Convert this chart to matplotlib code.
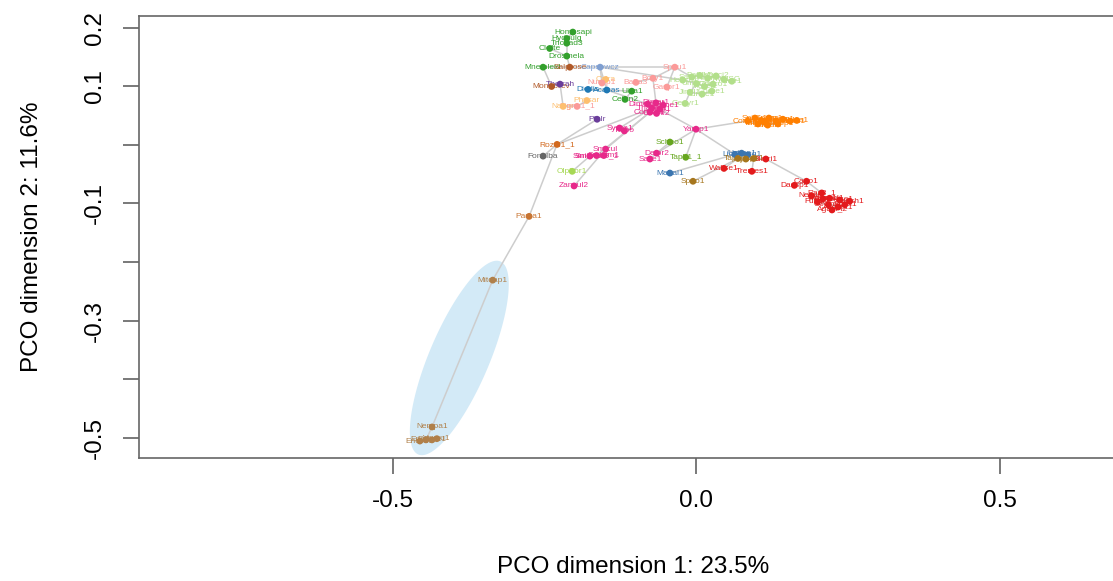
import numpy as np
import matplotlib
matplotlib.use('Agg')
import matplotlib.pyplot as plt
from matplotlib.patches import Polygon

plt.rcParams['font.family'] = ['Liberation Sans', 'DejaVu Sans']

# ---------------- data ----------------
names = [
    'Homosapi', 'Hydvulg', 'Trichad3', 'Clofte', 'Drosmela', 'Mnemleid',
    'Ulva1', 'Cetan2', 'Salprose', 'Monobrev', 'Thetrah', 'Pfalr', 'Capsowcz',
    'Dicdis', 'Acacas', 'Naegr', 'Physar', 'Calra',
    'Nucsp1', 'Bigna1_1', 'Spou1', 'Baba3', 'Bory1', 'Gaspr1',
    'Helsp1', 'Satsp1', 'Batde5', 'Rhiir1', 'Mucci2', 'PhyblSC', 'Lictr1',
    'Umbra1', 'Morel1', 'Conco1', 'Jimfl1', 'Linpe1', 'Coere1', 'Genyr1',
    'DimcrSC1', 'Dimar1', 'Basme1', 'Thaele1', 'Piplo1', 'Conlun1', 'Coere2',
    'Yarap1', 'Synra1', 'Tulbo', 'Smicul', 'Smimuc3_1', 'Smimuc2', 'Smisim1',
    'Zancul2', 'Delbr2', 'Saile1',
    'Scheo1', 'Tapb1_1', 'Olpbor1', 'Rozal1_1', 'Fonalba', 'Parsa1',
    'Mitdap1', 'Nempa1', 'Enccu1', 'Enchel1', 'Edhae1', 'Vavcu1',
    'Conpu1', 'Spipu1', 'Tubma1', 'Gonpr1', 'Chytri1', 'Rhilu1', 'Powch1',
    'Tulca1', 'Tubsp1', 'Batsal1', 'Homsp1', 'Cladch1',
    'Lichc1', 'Ustma1', 'Puccg1', 'Mahal1', 'Tapsp1', 'Tapde1', 'Tapfl1', 'Spoo1',
    'Wallse1', 'Tremes1', 'Blatri1',
    'Capo1', 'Dacsp1', 'Ras3_1', 'Neucr2', 'Aspnid1', 'Sacce1', 'Pench1',
    'Fusgr1', 'Cocim1', 'Ascapt1', 'Botci1', 'Agabi_2', 'Maggr1',
]

pco1 = [
    -0.203, -0.213, -0.213, -0.241, -0.213, -0.252,
    -0.106, -0.117, -0.208, -0.238, -0.224, -0.163, -0.158,
    -0.178, -0.147, -0.219, -0.180, -0.149,
    -0.155, -0.196, -0.035, -0.099, -0.071, -0.048,
    -0.022, -0.007, 0.006, 0.019, 0.033, 0.046, 0.059,
    0.001, 0.014, 0.028, -0.010, 0.010, 0.026, -0.018,
    -0.080, -0.066, -0.054, -0.073, -0.060, -0.076, -0.065,
    0.000, -0.126, -0.118, -0.149, -0.164, -0.175, -0.152,
    -0.201, -0.065, -0.076,
    -0.043, -0.017, -0.204, -0.229, -0.252, -0.275,
    -0.335, -0.435, -0.455, -0.445, -0.435, -0.427,
    0.085, 0.097, 0.108, 0.120, 0.132, 0.143, 0.155,
    0.166, 0.102, 0.118, 0.135, 0.113,
    0.064, 0.075, 0.085, -0.043, 0.069, 0.082, 0.095, -0.005,
    0.046, 0.092, 0.115,
    0.182, 0.162, 0.207, 0.190, 0.220, 0.237, 0.253,
    0.200, 0.218, 0.234, 0.245, 0.224, 0.209,
]

pco2 = [
    0.193, 0.182, 0.174, 0.165, 0.152, 0.133,
    0.092, 0.078, 0.133, 0.100, 0.104, 0.044, 0.133,
    0.095, 0.094, 0.066, 0.076, 0.112,
    0.106, 0.066, 0.133, 0.107, 0.114, 0.099,
    0.111, 0.116, 0.119, 0.114, 0.118, 0.112, 0.109,
    0.105, 0.100, 0.104, 0.090, 0.087, 0.092, 0.071,
    0.070, 0.072, 0.068, 0.063, 0.061, 0.056, 0.054,
    0.027, 0.029, 0.024, -0.007, -0.018, -0.019, -0.018,
    -0.070, -0.014, -0.024,
    0.005, -0.021, -0.045, 0.001, -0.019, -0.122,
    -0.231, -0.482, -0.506, -0.504, -0.504, -0.502,
    0.041, 0.046, 0.042, 0.046, 0.041, 0.044, 0.041,
    0.042, 0.036, 0.034, 0.036, 0.039,
    -0.016, -0.014, -0.017, -0.048, -0.023, -0.024, -0.023, -0.062,
    -0.040, -0.045, -0.024,
    -0.062, -0.069, -0.082, -0.087, -0.091, -0.094, -0.096,
    -0.097, -0.102, -0.106, -0.102, -0.111, -0.092,
]

groups = (
    ['holozoa'] * 8 + ['choano', 'choano', 'apuso', 'apuso', 'capso',
                       'amoeba', 'amoeba', 'excav', 'excav', 'excav'] +
    ['salmon'] * 6 + ['mucoro'] * 14 + ['zoopago'] * 17 +
    ['blasto', 'blasto', 'olpid', 'rozella', 'fonticula', 'aphelid'] +
    ['microsp'] * 6 + ['chytrid'] * 12 +
    ['basid_b'] * 4 + ['basid_g'] * 4 + ['asco'] * 3 + ['asco'] * 13
)

group_colors = {
    'holozoa': '#33a02c', 'choano': '#b15928', 'apuso': '#6a3d9a',
    'capso': '#7f9fd1', 'amoeba': '#1f78b4', 'excav': '#fdbf6f',
    'salmon': '#fb9a99', 'mucoro': '#b2df8a', 'zoopago': '#e7298a',
    'blasto': '#66a61e', 'olpid': '#a6d854', 'rozella': '#d2691e',
    'fonticula': '#666666', 'aphelid': '#c87533', 'microsp': '#b0804a',
    'chytrid': '#ff7f00', 'basid_b': '#3a75b0', 'basid_g': '#a6761d',
    'asco': '#e31a1c',
}

edges = [
    ('Homosapi', 'Hydvulg'), ('Hydvulg', 'Trichad3'), ('Trichad3', 'Drosmela'),
    ('Clofte', 'Drosmela'), ('Drosmela', 'Salprose'), ('Mnemleid', 'Salprose'),
    ('Salprose', 'Capsowcz'), ('Mnemleid', 'Monobrev'), ('Monobrev', 'Thetrah'),
    ('Thetrah', 'Naegr'), ('Naegr', 'Bigna1_1'), ('Bigna1_1', 'Physar'),
    ('Capsowcz', 'Nucsp1'), ('Nucsp1', 'Calra'), ('Capsowcz', 'Acacas'),
    ('Dicdis', 'Acacas'), ('Acacas', 'Ulva1'), ('Ulva1', 'Cetan2'),
    ('Capsowcz', 'Spou1'), ('Capsowcz', 'Helsp1'), ('Spou1', 'Bory1'),
    ('Spou1', 'Gaspr1'), ('Bory1', 'Baba3'), ('Spou1', 'Satsp1'),
    ('Helsp1', 'Umbra1'), ('Satsp1', 'Batde5'), ('Batde5', 'Rhiir1'),
    ('Rhiir1', 'Mucci2'), ('Mucci2', 'PhyblSC'), ('PhyblSC', 'Lictr1'),
    ('Umbra1', 'Morel1'), ('Morel1', 'Conco1'), ('Umbra1', 'Jimfl1'),
    ('Jimfl1', 'Linpe1'), ('Linpe1', 'Coere1'), ('Jimfl1', 'Genyr1'),
    ('Acacas', 'DimcrSC1'), ('Bory1', 'Dimar1'), ('DimcrSC1', 'Thaele1'),
    ('Thaele1', 'Conlun1'), ('Dimar1', 'Basme1'), ('Basme1', 'Piplo1'),
    ('Conlun1', 'Coere2'), ('Piplo1', 'Yarap1'),
    ('Thaele1', 'Synra1'), ('Synra1', 'Tulbo'), ('Conlun1', 'Smicul'),
    ('Conlun1', 'Smimuc3_1'), ('Smimuc3_1', 'Smimuc2'), ('Smimuc3_1', 'Smisim1'),
    ('Smicul', 'Zancul2'), ('Smimuc2', 'Olpbor1'), ('Thaele1', 'Rozal1_1'),
    ('Rozal1_1', 'Pfalr'), ('Rozal1_1', 'Fonalba'), ('Rozal1_1', 'Parsa1'),
    ('Parsa1', 'Mitdap1'), ('Mitdap1', 'Nempa1'), ('Nempa1', 'Enchel1'),
    ('Enchel1', 'Enccu1'), ('Enchel1', 'Edhae1'), ('Edhae1', 'Vavcu1'),
    ('Yarap1', 'Conpu1'), ('Yarap1', 'Tapb1_1'), ('Yarap1', 'Delbr2'),
    ('Delbr2', 'Saile1'), ('Delbr2', 'Scheo1'), ('Yarap1', 'Lichc1'),
    ('Conpu1', 'Spipu1'), ('Spipu1', 'Tubma1'), ('Tubma1', 'Gonpr1'),
    ('Gonpr1', 'Chytri1'), ('Chytri1', 'Rhilu1'), ('Rhilu1', 'Powch1'),
    ('Powch1', 'Tulca1'), ('Conpu1', 'Tubsp1'), ('Tubsp1', 'Batsal1'),
    ('Batsal1', 'Homsp1'), ('Homsp1', 'Cladch1'),
    ('Lichc1', 'Ustma1'), ('Ustma1', 'Puccg1'), ('Lichc1', 'Mahal1'),
    ('Lichc1', 'Tapsp1'), ('Tapsp1', 'Tapde1'), ('Tapde1', 'Tapfl1'),
    ('Tapsp1', 'Spoo1'), ('Tapsp1', 'Wallse1'), ('Tapfl1', 'Tremes1'),
    ('Tapfl1', 'Blatri1'), ('Blatri1', 'Capo1'), ('Capo1', 'Dacsp1'),
    ('Capo1', 'Ras3_1'), ('Ras3_1', 'Neucr2'), ('Ras3_1', 'Maggr1'),
    ('Maggr1', 'Aspnid1'), ('Aspnid1', 'Sacce1'), ('Sacce1', 'Pench1'),
    ('Neucr2', 'Fusgr1'), ('Fusgr1', 'Cocim1'), ('Cocim1', 'Ascapt1'),
    ('Cocim1', 'Botci1'), ('Botci1', 'Agabi_2'),
]

# highlighted group ellipse (data units): centre and two conjugate semi-axes
ell_center = (-0.390, -0.364)
ell_u = (0.0676, 0.165)
ell_v = (0.0455, -0.020)

x_ticks = [-0.5, 0.0, 0.5]
x_ticklabels = ['-0.5', '0.0', '0.5']
y_ticks = [0.2, 0.1, 0.0, -0.1, -0.2, -0.3, -0.4, -0.5]
y_ticklabels = ['0.2', '0.1', '', '-0.1', '', '-0.3', '', '-0.5']
xlabel = 'PCO dimension 1: 23.5%'
ylabel = 'PCO dimension 2: 11.6%'

# ---------------- plot ----------------
W, H = 1113, 581
fig = plt.figure(figsize=(W / 100, H / 100), dpi=100)
ax_l, ax_r, ax_t, ax_b = 139, 1127, 15.7, 457.7
ax = fig.add_axes([ax_l / W, 1 - ax_b / H, (ax_r - ax_l) / W, (ax_b - ax_t) / H])
ax.set_xlim(-0.9177, 0.710)
ax.set_ylim(-0.5345, 0.2210)

t = np.linspace(0, 2 * np.pi, 200)
ex = ell_center[0] + ell_u[0] * np.cos(t) + ell_v[0] * np.sin(t)
ey = ell_center[1] + ell_u[1] * np.cos(t) + ell_v[1] * np.sin(t)
ax.add_patch(Polygon(np.column_stack([ex, ey]), closed=True,
                     facecolor='#d3eaf7', edgecolor='none', zorder=0))

idx = {n: i for i, n in enumerate(names)}
for a, b in edges:
    i, j = idx[a], idx[b]
    ax.plot([pco1[i], pco1[j]], [pco2[i], pco2[j]], color='#cdcdcd',
            lw=1.1, zorder=1, solid_capstyle='round')

cols = [group_colors[g] for g in groups]
for n, x, y, c in zip(names, pco1, pco2, cols):
    ax.text(x, y, n, color=c, fontsize=6, ha='center', va='center', zorder=2)
ax.scatter(pco1, pco2, s=24, c=cols, linewidths=0, zorder=3)

for side in ['left', 'bottom', 'top', 'right']:
    ax.spines[side].set_color('#666666')
    ax.spines[side].set_linewidth(1.2)

ax.set_xticks(x_ticks)
ax.set_xticklabels(x_ticklabels, fontsize=17.5)
ax.set_yticks(y_ticks)
ax.set_yticklabels(y_ticklabels, fontsize=17.5, rotation=90, va='center')
ax.tick_params(axis='both', length=11.5, width=1.1, color='#555555', pad=12)

ax.set_xlabel(xlabel, fontsize=17.5)
ax.set_ylabel(ylabel, fontsize=17.5)
ax.xaxis.set_label_coords(0.5, -(567 - ax_b) / (ax_b - ax_t))
ax.xaxis.label.set_va('center')
ax.yaxis.set_label_coords(-(ax_l - 32) / (ax_r - ax_l), 0.5)
ax.yaxis.label.set_va('center')

fig.savefig('out.png', dpi=100)
